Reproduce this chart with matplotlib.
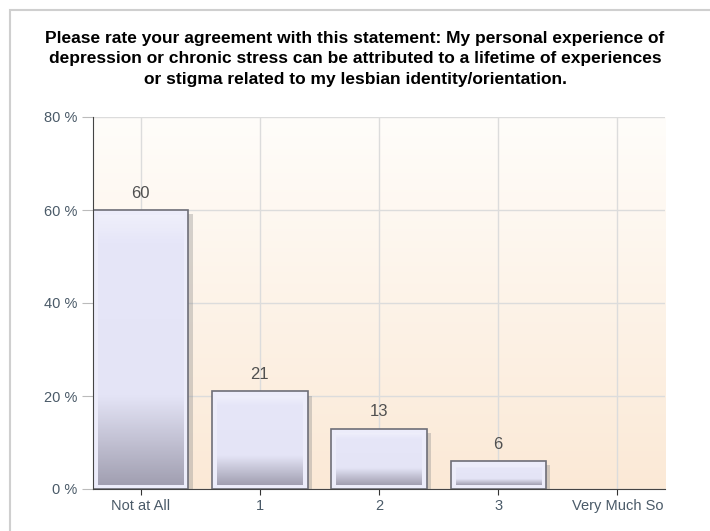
import numpy as np
import matplotlib
matplotlib.use("Agg")
import matplotlib.pyplot as plt
import matplotlib.patheffects as pe
from matplotlib.patches import Rectangle
from matplotlib.colors import LinearSegmentedColormap

# Survey answers
categories = ["Not at All", "1", "2", "3", "Very Much So"]
percentages = [60, 21, 13, 6, 0]
y_ticks = [0, 20, 40, 60, 80]
title = ("Please rate your agreement with this statement: My personal experience of\n"
         "depression or chronic stress can be attributed to a lifetime of experiences\n"
         "or stigma related to my lesbian identity/orientation.")

plt.rcParams['font.family'] = ['Liberation Sans', 'DejaVu Sans']

fig = plt.figure(figsize=(7.1, 5.31), dpi=100)
ax = fig.add_axes([93 / 710, 1 - 489 / 531, 572 / 710, 372 / 531])

# light frame around the chart (only top/left visible in the original)
fig.add_artist(Rectangle((10 / 710, -0.1), 1.1, 1 - 10 / 531 + 0.1, transform=fig.transFigure,
                         fill=False, edgecolor="#cfcfcf", linewidth=1.5))

xlim = (-0.4, len(categories) - 0.6)
ylim = (0, 80)

# background gradient: white at top, peach at bottom
bg = LinearSegmentedColormap.from_list("bg", ["#fbe9d6", "#fffdfa"])
ax.imshow(np.linspace(0, 1, 256).reshape(-1, 1), cmap=bg, aspect="auto", origin="lower",
          extent=(*xlim, *ylim), zorder=0)

ax.set_xlim(*xlim)
ax.set_ylim(*ylim)

ax.grid(True, color="#dcdcdc", linewidth=1)
ax.set_axisbelow(True)

bar_cmap = LinearSegmentedColormap.from_list(
    "bar", [(0, "#a19fb1"), (0.33, "#e4e4f6"), (0.9, "#e6e6f8"), (1, "#efeffb")])

px_x = (xlim[1] - xlim[0]) / 572
px_y = (ylim[1] - ylim[0]) / 372
for i, v in enumerate(percentages):
    if v <= 0:
        continue
    bar = Rectangle((i - 0.4, 0), 0.8, v, facecolor="#ececfa", edgecolor="#6e6e78",
                    linewidth=1.2, zorder=3)
    bar.set_path_effects([pe.SimplePatchShadow(offset=(3, -3), shadow_rgbFace="#888888", alpha=0.35),
                          pe.Normal()])
    ax.add_patch(bar)
    ax.imshow(np.linspace(0, 1, 256).reshape(-1, 1), cmap=bar_cmap, aspect="auto", origin="lower",
              extent=(i - 0.4 + 5 * px_x, i + 0.4 - 5 * px_x, 4 * px_y, v - 5 * px_y), zorder=4)
    ax.text(i, v + 2.0, f"{v}", ha="center", va="bottom", fontsize=12, color="#505050", zorder=5)

ax.set_xticks(range(len(categories)))
ax.set_xticklabels(categories)
ax.set_yticks(y_ticks)
ax.set_yticklabels([f"{t} %" for t in y_ticks])

ax.tick_params(axis="x", length=4, color="#333333", labelsize=10.5, labelcolor="#4a5a68", pad=3)
ax.tick_params(axis="y", length=8, color="#bbbbbb", labelsize=10.5, labelcolor="#4a5a68", pad=3)

for s in ["top", "right"]:
    ax.spines[s].set_visible(False)
ax.spines["left"].set_color("#444444")
ax.spines["bottom"].set_color("#444444")
ax.spines["left"].set_zorder(6)
ax.spines["bottom"].set_zorder(6)

fig.text(0.5, 1 - 31 / 531, title, ha="center", va="top", fontsize=12.5, fontweight="bold",
         color="black", linespacing=1.45)

fig.savefig("out.png", dpi=100)
